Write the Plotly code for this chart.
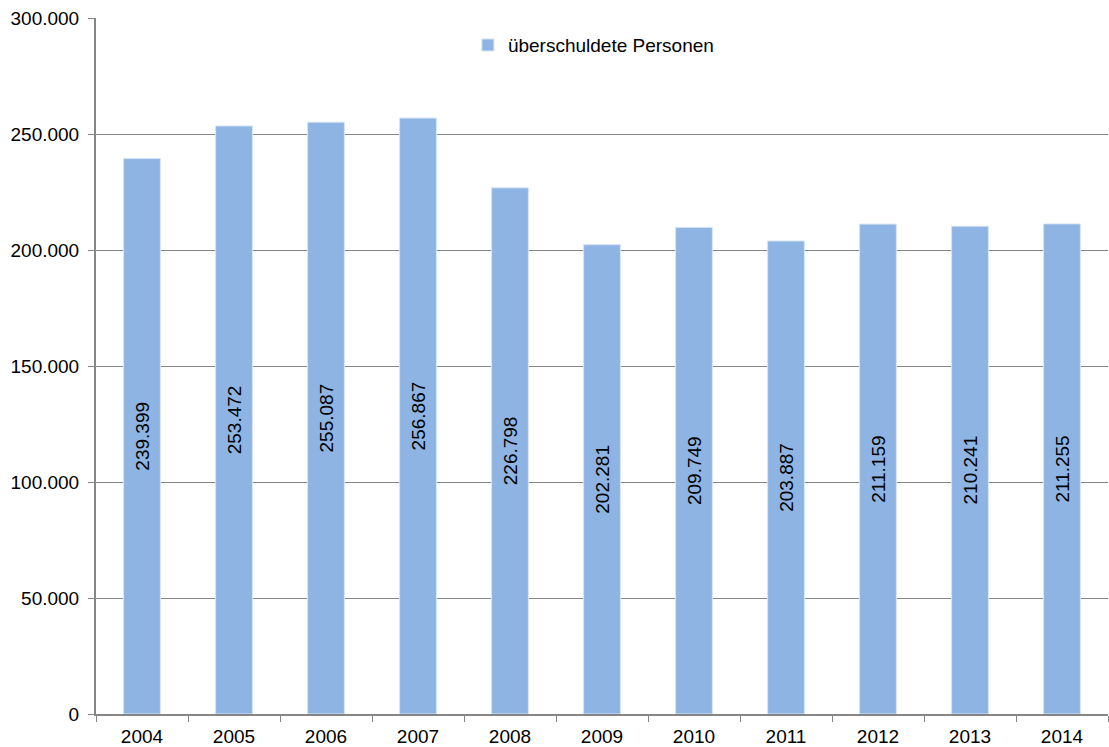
import plotly.graph_objects as go

years = ["2004", "2005", "2006", "2007", "2008", "2009", "2010", "2011", "2012", "2013", "2014"]
persons = [239399, 253472, 255087, 256867, 226798, 202281, 209749, 203887, 211159, 210241, 211255]
series_name = "überschuldete Personen"

FONT = "Liberation Sans, Arial, Helvetica"

fig = go.Figure()
fig.add_trace(go.Bar(
    x=years, y=persons, name=series_name,
    marker=dict(color="#8EB4E3", line=dict(color="#D6E3F3", width=1)),
    texttemplate="%{y:,d}", textposition="inside", insidetextanchor="middle",
    textangle=-90, textfont=dict(family=FONT, size=19, color="#000000"),
    showlegend=True,
))

fig.update_layout(
    width=1109, height=747,
    margin=dict(l=96, r=1, t=18, b=33),
    paper_bgcolor="white", plot_bgcolor="white",
    separators=",.",
    bargap=0.6,
    font=dict(family=FONT, size=19, color="#000000"),
    showlegend=True,
    legend=dict(x=0.3675, xanchor="left", y=0.961, yanchor="middle",
                font=dict(family=FONT, size=19), bgcolor="rgba(0,0,0,0)", itemwidth=30),
    xaxis=dict(
        type="category", showline=True, linecolor="#868686", linewidth=2,
        ticks="outside", tickson="boundaries", ticklen=6, tickcolor="#868686",
        showgrid=False, tickfont=dict(size=19), automargin=False,
        ticklabelstandoff=4,
    ),
    yaxis=dict(
        range=[0, 300000], dtick=50000, tickformat=",d",
        showline=True, linecolor="#868686", linewidth=2,
        ticks="outside", ticklen=6, tickcolor="#868686",
        showgrid=True, gridcolor="#868686", gridwidth=1,
        zeroline=False, tickfont=dict(size=19), automargin=False,
        ticklabelstandoff=5,
    ),
)

fig.write_html("out.html")
